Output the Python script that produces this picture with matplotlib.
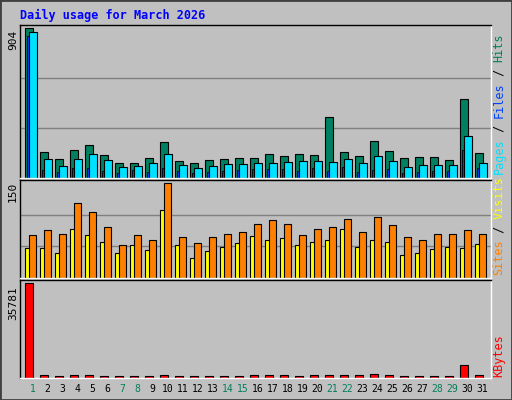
import matplotlib
matplotlib.use("Agg")
import matplotlib.pyplot as plt
import numpy as np

days = list(range(1, 32))
weekend = [1, 7, 8, 14, 15, 21, 22, 28, 29]
hits = [904,158,115,170,201,140,90,90,121,214,103,90,109,115,121,121,146,134,146,140,368,158,134,220,164,121,127,127,109,479,152]
cyanv = [879,115,72,115,146,109,66,72,90,146,78,60,72,84,84,90,90,97,103,103,97,115,90,134,103,66,78,78,78,251,90]
bluev = [855,47,35,60,60,41,29,47,35,60,41,29,35,41,47,53,53,53,41,60,41,66,35,47,53,29,35,41,41,170,60]
visits = [68,76,70,119,104,81,52,68,60,150,65,55,65,70,73,85,91,85,68,78,81,93,73,96,83,65,60,70,70,76,70]
sites = [47,47,39,78,68,57,39,52,44,107,52,32,42,49,55,67,60,63,52,57,60,78,49,60,57,37,40,45,49,47,53]
kbytes = [35781,1100,700,1000,1000,900,700,800,700,1000,800,700,800,900,900,1000,1000,1000,900,1000,1300,1300,1000,1400,1100,800,900,900,800,4800,1100]

W, H = 512, 400
fig = plt.figure(figsize=(W/100, H/100), dpi=100, facecolor="#C0C0C0")
fig.patches.append(plt.Rectangle((0, 0), 1, 1, transform=fig.transFigure, fill=False, ec="#404040", lw=2))

X0, SL = 21.0, 15.0
def ax_px(x0, y0, x1, y1):
    a = fig.add_axes([x0/W, 1-y1/H, (x1-x0)/W, (y1-y0)/H])
    a.set_facecolor("#C0C0C0")
    a.set_xlim((x0-X0)/SL+0.5, (x1-X0)/SL+0.5)
    a.set_xticks([]); a.set_yticks([])
    for s in a.spines.values():
        s.set_color("black"); s.set_linewidth(1)
    a.spines["bottom"].set_color("white"); a.spines["right"].set_color("white")
    return a

x = np.array(days)
a1 = ax_px(20, 25, 491, 178)
a1.set_ylim(0, 904*1.02)
for g in [904/3, 904*2/3]:
    a1.axhline(g, color="#808080", lw=1, zorder=0)
a1.bar(x-0.23, hits, width=0.53, align="edge", color="#008060", ec="black", lw=0.8)
a1.bar(x-0.1, bluev, width=0.13, align="edge", color="#0040FF", ec="black", lw=0.6)
a1.bar(x+0.03, cyanv, width=0.54, align="edge", color="#00E0FF", ec="black", lw=0.8)
fig.text(13/W, 1-40/H, "904", rotation=90, ha="center", va="center", family="DejaVu Sans Mono", fontsize=8)

a2 = ax_px(20, 180, 491, 278)
a2.set_ylim(0, 150*1.03)
for g in [50, 100]:
    a2.axhline(g, color="#808080", lw=1, zorder=0)
a2.bar(x-0.23, sites, width=0.44, align="edge", color="#FFFF00", ec="black", lw=0.8)
a2.bar(x+0.05, visits, width=0.47, align="edge", color="#FF8000", ec="black", lw=0.8)
fig.text(13/W, 1-192/H, "150", rotation=90, ha="center", va="center", family="DejaVu Sans Mono", fontsize=8)

a3 = ax_px(20, 280, 491, 378)
a3.set_ylim(0, 35781*1.03)
a3.bar(x-0.23, kbytes, width=0.53, align="edge", color="#FF0000", ec="black", lw=0.8)
fig.text(13/W, 1-303/H, "35781", rotation=90, ha="center", va="center", family="DejaVu Sans Mono", fontsize=8)

for d in days:
    xp = X0 + SL*(d - 0.5) + 4
    fig.text(xp/W, 1-389/H, str(d), ha="center", va="center", family="DejaVu Sans Mono",
             fontsize=7, color="#00805C" if d in weekend else "black")

fig.text(20/W, 1-15/H, "Daily usage for March 2026", family="DejaVu Sans Mono", fontweight="bold",
         fontsize=8.5, color="#0000FF", ha="left", va="center")

def vlabel(y, parts):
    yy = y
    for txt, col in parts:
        fig.text(499/W, yy/H, txt, rotation=90, ha="center", va="bottom",
                 family="DejaVu Sans Mono", fontsize=8.5, color=col)
        yy += len(txt) * 7.0
vlabel(400-174, [("Pages", "#00E0FF"), (" / ", "black"), ("Files", "#0040FF"), (" / ", "black"), ("Hits", "#00805C")])
vlabel(400-275, [("Sites", "#FF8000"), (" / ", "black"), ("Visits", "#FFFF00")])
vlabel(400-377, [("KBytes", "#FF0000")])

fig.savefig("out.png", dpi=100, facecolor=fig.get_facecolor())
